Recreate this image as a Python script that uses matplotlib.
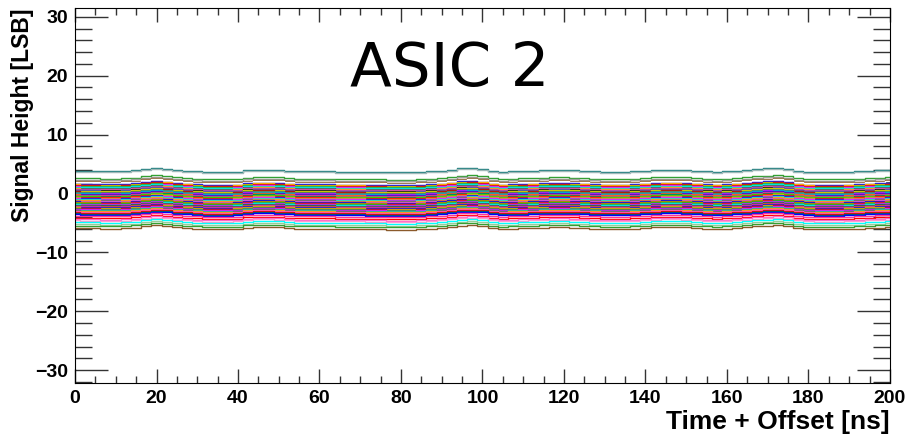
import numpy as np
import matplotlib
matplotlib.use("Agg")
import matplotlib.pyplot as plt
from matplotlib.ticker import MultipleLocator

# time grid the ripple was read on (ns)
time_ns = [0, 2.5, 5, 7.5, 10, 12.5, 15, 17.5, 20, 22.5, 25, 27.5, 30, 32.5, 35, 37.5, 40,
           42.5, 45, 47.5, 50, 52.5, 55, 57.5, 60, 62.5, 65, 67.5, 70, 72.5, 75, 77.5, 80,
           82.5, 85, 87.5, 90, 92.5, 95, 97.5, 100, 102.5, 105, 107.5, 110, 112.5, 115, 117.5,
           120, 122.5, 125, 127.5, 130, 132.5, 135, 137.5, 140, 142.5, 145, 147.5, 150, 152.5,
           155, 157.5, 160, 162.5, 165, 167.5, 170, 172.5, 175, 177.5, 180, 182.5, 185, 187.5,
           190, 192.5, 195, 197.5, 200]

# common baseline wobble (LSB)
ripple = [0.00, -0.06, -0.06, -0.11, -0.11, -0.06, 0.06, 0.28, 0.45, 0.34, 0.11, 0.00, -0.11,
          -0.23, -0.23, -0.23, -0.17, 0.06, 0.17, 0.17, 0.11, 0.00, -0.11, -0.11, -0.11, -0.11,
          -0.17, -0.17, -0.17, -0.23, -0.23, -0.28, -0.28, -0.28, -0.23, -0.11, 0.00, 0.17,
          0.40, 0.45, 0.34, 0.00, -0.17, -0.11, -0.06, 0.00, 0.06, 0.11, 0.11, 0.06, 0.00,
          -0.11, -0.17, -0.17, -0.17, -0.11, 0.00, 0.11, 0.17, 0.17, 0.11, 0.00, -0.11, -0.17,
          -0.11, 0.00, 0.11, 0.28, 0.40, 0.45, 0.28, 0.00, -0.17, -0.23, -0.23, -0.23, -0.17,
          -0.11, 0.00, 0.06, 0.11]

# per-channel pedestal (LSB) and colour
ch_offset = [3.85, 3.70, 2.60, 2.35, 2.10, 1.95, 1.65, 1.55, 1.42, 1.33, 1.20, 1.12, 1.00,
             0.88, 0.80, 0.66, 0.58, 0.47, 0.35, 0.28, 0.15, 0.05, -0.05, -0.15, -0.22, -0.35,
             -0.42, -0.55, -0.63, -0.75, -0.84, -0.95, -1.05, -1.13, -1.25, -1.35, -1.44, -1.55,
             -1.62, -1.75, -1.85, -1.93, -2.05, -2.15, -2.24, -2.35, -2.45, -2.55, -2.66, -2.74,
             -2.85, -2.95, -3.05, -3.20, -3.35, -3.55, -3.75, -4.10, -4.35, -4.55, -4.85, -5.20,
             -5.50, -5.85]
ch_color = ["#1f7f7f", "#9fb8b8", "#33a033", "#a0a0a0", "#8b5a2b", "#ffffff",
            "#0000ff", "#ffcc00", "#ff0000", "#00cc00", "#ff00ff", "#00ffff", "#006666",
            "#ff9900", "#ff66cc", "#000000", "#3333cc", "#ffff00", "#cc0000", "#339933",
            "#ff00ff", "#00cccc", "#0000ff", "#ff6600", "#ff3399", "#007777", "#00ff00",
            "#ff0000", "#ffcc00", "#0000cc", "#ff00ff", "#00ffff", "#336666", "#ff9900",
            "#ff66cc", "#0000ff", "#cc9900", "#ff0000", "#00cc00", "#ff00ff", "#00ffff",
            "#006666", "#ff6600", "#ff3399", "#0000ff", "#ffcc00", "#cc0000", "#339933",
            "#ff00ff", "#00cccc", "#2a5f6f", "#ff9900", "#ff66cc", "#ff0000", "#006666",
            "#0000ff", "#ff3399", "#ff0000", "#ff66cc", "#ff99cc", "#00ffff", "#99cc99",
            "#33a033", "#8b5a2b"]

plt.rcParams["font.family"] = ["Liberation Sans", "DejaVu Sans"]

fig = plt.figure(figsize=(9.07, 4.38), dpi=100)
ax = fig.add_axes([75 / 907, 1 - 383 / 438, 815 / 907, 375 / 438])

t = np.array(time_ns)
r = np.array(ripple)
for off, col in zip(ch_offset, ch_color):
    ax.step(t, off + r, where="mid", color=col, lw=1.0)

ax.set_xlim(0, 200)
ax.set_ylim(-32.2, 31.5)

ax.xaxis.set_major_locator(MultipleLocator(20))
ax.xaxis.set_minor_locator(MultipleLocator(5))
ax.yaxis.set_major_locator(MultipleLocator(10))
ax.yaxis.set_minor_locator(MultipleLocator(2))
ax.tick_params(which="both", direction="in", top=True, right=True, color="#333333")
ax.tick_params(axis="x", which="major", length=10, width=1, pad=5)
ax.tick_params(axis="x", which="minor", length=5, width=1)
ax.tick_params(axis="y", which="major", length=24, width=1, pad=5)
ax.tick_params(axis="y", which="minor", length=12, width=1)
for lab in ax.get_xticklabels() + ax.get_yticklabels():
    lab.set_fontweight("bold")
    lab.set_fontsize(14)

ax.set_xlabel("Time + Offset [ns]", fontsize=19, fontweight="bold", loc="right", labelpad=2)
ax.set_ylabel("Signal Height [LSB]", fontsize=16.5, fontweight="bold", loc="top", labelpad=1)

ax.text(92, 18.3, "ASIC 2", fontsize=44, family="DejaVu Sans", ha="center", va="baseline")

fig.savefig("out.png", dpi=100)
